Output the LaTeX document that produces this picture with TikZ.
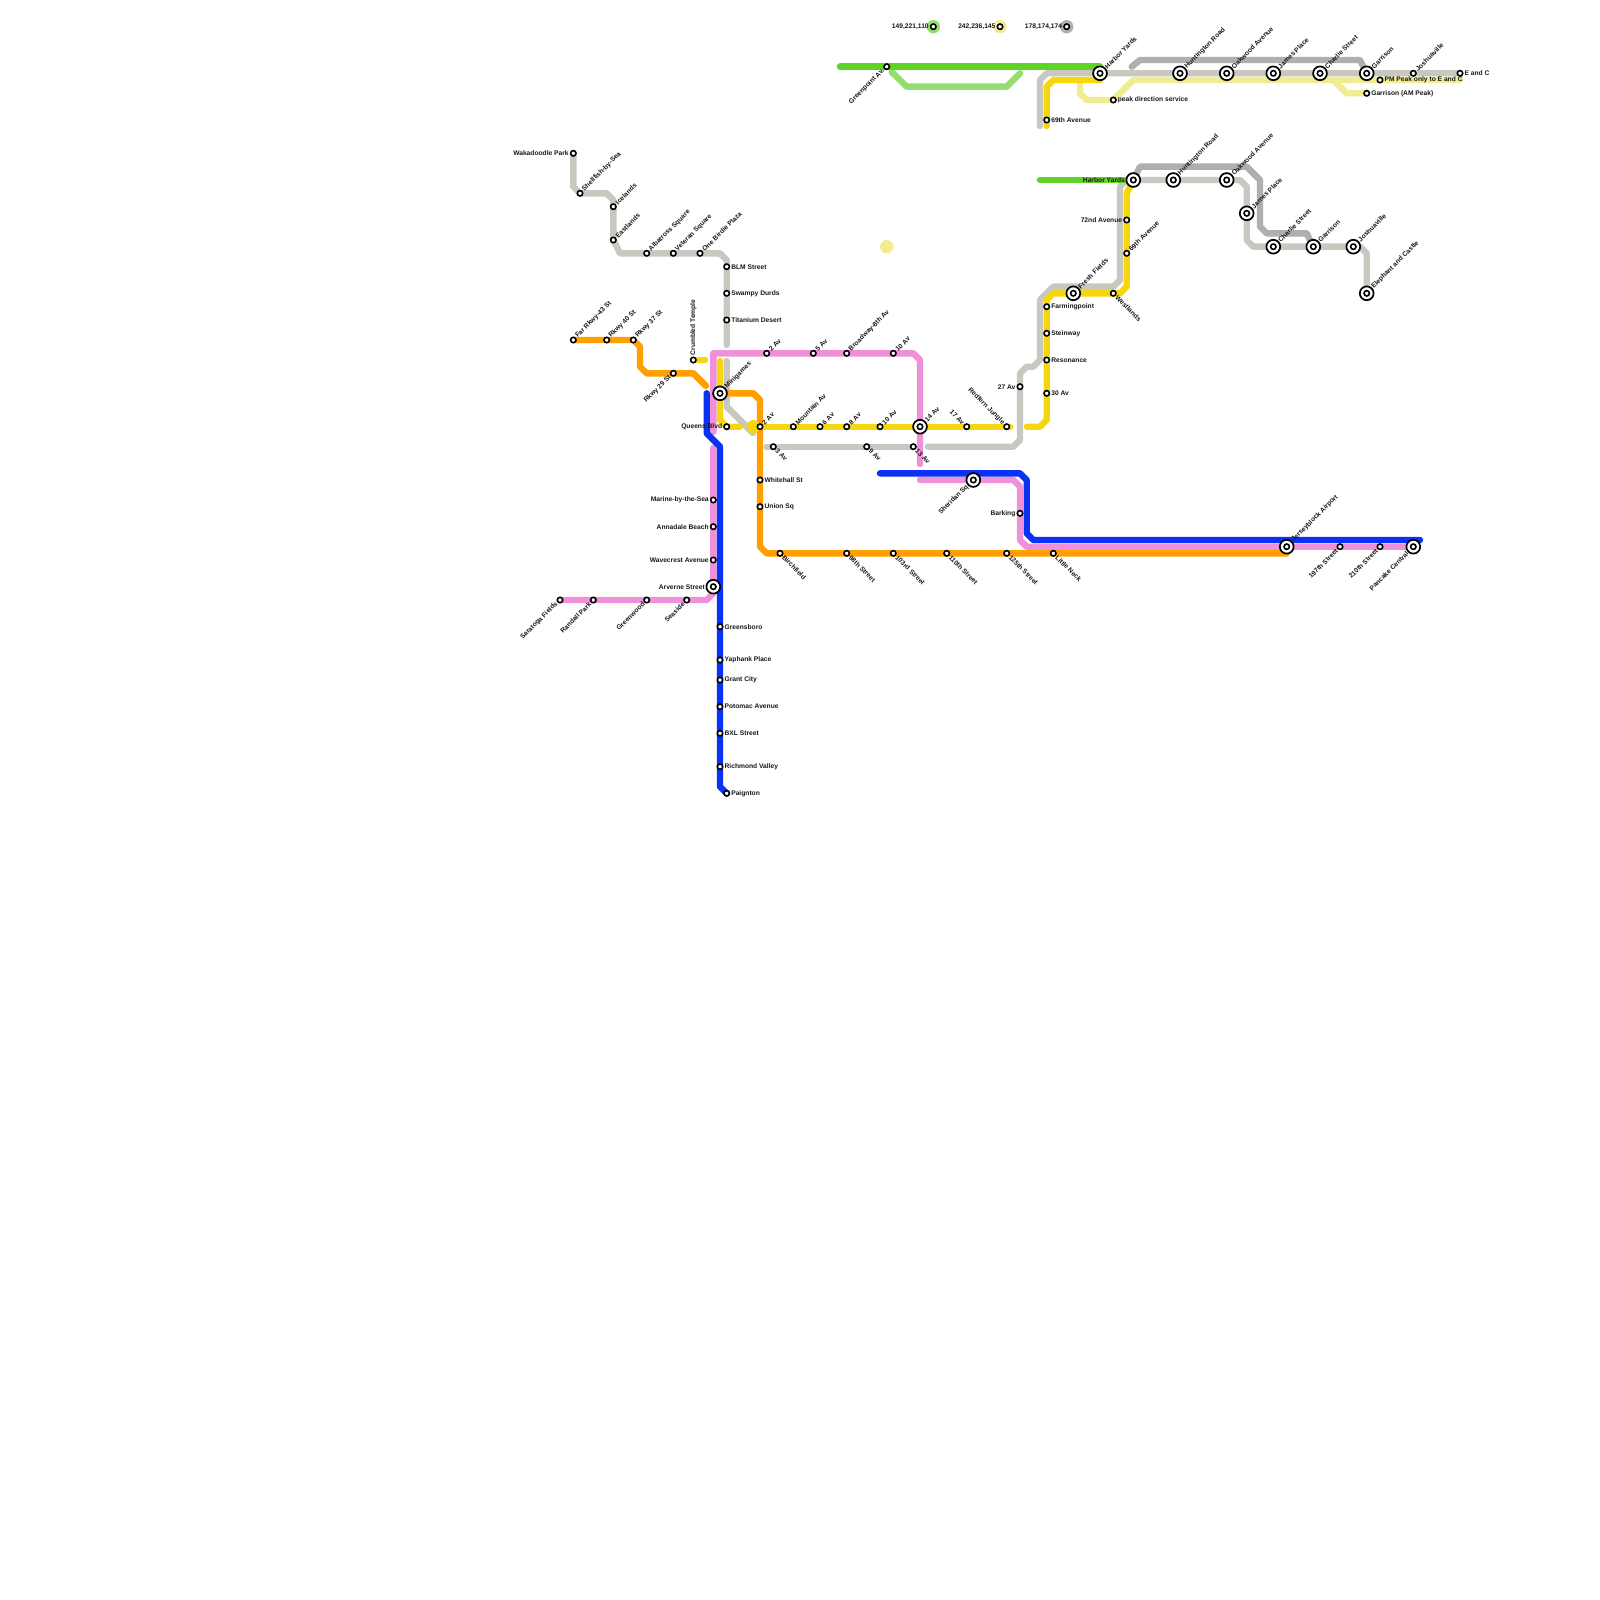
\documentclass[tikz,border=0pt]{standalone}
\usepackage{fontspec}
\setmainfont{Liberation Sans}
\usetikzlibrary{backgrounds}
\definecolor{cgreen}{RGB}{96,212,38}
\definecolor{clgreen}{RGB}{149,221,110}
\definecolor{cpale}{RGB}{242,236,145}
\definecolor{cdgray}{RGB}{178,174,174}
\definecolor{cgray}{RGB}{200,199,192}
\definecolor{cyel}{RGB}{246,215,15}
\definecolor{corg}{RGB}{255,159,0}
\definecolor{cpink}{RGB}{240,144,216}
\definecolor{cblue}{RGB}{10,50,245}
\newcommand{\px}{0.2845pt}
\tikzset{
  route/.style={line width=6.4*\px,line cap=round,line join=round},
  dotsm/.style={circle,draw=black,fill=white,line width=1.6*\px,inner sep=0pt,outer sep=0pt,minimum size=5.4*\px},
  dotbg/.style={circle,draw=black,fill=white,line width=1.7*\px,inner sep=0pt,outer sep=0pt,minimum size=13.8*\px},
  halo/.style={circle,inner sep=0pt,minimum size=13.4*\px},
  lab/.style={inner sep=0pt,outer sep=0pt,font=\bfseries\fontsize{1.9}{2.3}\selectfont,text=black!90},
  lE/.style={xshift=#1,anchor=west},
  lW/.style={xshift=-#1,anchor=east},
  lN/.style={yshift=#1,rotate=90,anchor=west},
  lUR/.style={xshift=0.707*#1,yshift=0.707*#1,rotate=45,anchor=west},
  lDR/.style={xshift=0.707*#1,yshift=-0.707*#1,rotate=-45,anchor=west},
  lDL/.style={xshift=-0.707*#1,yshift=-0.707*#1,rotate=45,anchor=east},
  lUL/.style={xshift=-0.707*#1,yshift=0.707*#1,rotate=-45,anchor=east},
}
\newcommand{\stn}[5]{\node[dotsm] (#1) at (#2,#3) {};\node[lab,#4=4.6*\px] (#1-t) at (#1.center) {#5};}
\newcommand{\bstn}[5]{\node[dotbg] (#1) at (#2,#3) {};\node[dotsm] (#1-c) at (#1.center) {};\node[lab,#4=8.4*\px] (#1-t) at (#1.center) {#5};}
\begin{document}
\begin{tikzpicture}[x=0.01cm,y=-0.01cm]
\useasboundingbox (0,0) rectangle (1600,1600);
% upper grey route, left branch
\stn{wak}{573.3}{153.3}{lW}{Wakadoodle Park}
\stn{she}{580}{193.3}{lUR}{Shellfish-by-Sea}
\stn{ice}{613.3}{206.7}{lUR}{Icelands}
\stn{eas}{613.3}{240}{lUR}{Eastlands}
\stn{alb}{646.7}{253.3}{lUR}{Albatross Square}
\stn{vet}{673.3}{253.3}{lUR}{Veteran Square}
\stn{one}{700}{253.3}{lUR}{One Birdie Plaza}
\stn{blm}{726.7}{266.7}{lE}{BLM Street}
\stn{swa}{726.7}{293.3}{lE}{Swampy Durds}
\stn{tit}{726.7}{320}{lE}{Titanium Desert}
% orange
\stn{far}{573.3}{340}{lUR}{Far Rkwy-43 St}
\stn{r40}{606.7}{340}{lUR}{Rkwy 40 St}
\stn{r37}{633.3}{340}{lUR}{Rkwy 37 St}
\stn{r29}{673.3}{373.3}{lDL}{Rkwy 29 St}
\stn{cru}{693.3}{360}{lN}{Crumbled Temple}
\bstn{min}{720}{393.3}{lUR}{Minigames}
\stn{que}{726.7}{426.7}{lW}{Queens Blvd}
\stn{a2y}{760}{426.7}{lUR}{2 Av}
\stn{mou}{793.3}{426.7}{lUR}{Mountain Av}
\stn{a6}{820}{426.7}{lUR}{6 Av}
\stn{a8}{846.7}{426.7}{lUR}{8 Av}
\stn{a10y}{880}{426.7}{lUR}{10 Av}
\bstn{a14}{920}{426.7}{lUR}{14 Av}
\stn{a17}{966.7}{426.7}{lUL}{17 Av}
\stn{red}{1006.7}{426.7}{lUL}{Redfern Jungle}
\stn{a3}{773.3}{446.7}{lDR}{3 Av}
\stn{a9}{866.7}{446.7}{lDR}{9 Av}
\stn{a13}{913.3}{446.7}{lDR}{13 Av}
\stn{a2p}{766.7}{353.3}{lUR}{2 Av}
\stn{a5}{813.3}{353.3}{lUR}{5 Av}
\stn{bro}{846.7}{353.3}{lUR}{Broadway-8th Av}
\stn{a10p}{893.3}{353.3}{lUR}{10 Av}
\stn{a27}{1020}{386.7}{lW}{27 Av}
\bstn{she2}{973.3}{480}{lDL}{Sheridan Sq}
\stn{bar}{1020}{513.3}{lW}{Barking}
\stn{lit}{1053.3}{553.3}{lDR}{Little Neck}
\stn{whi}{760}{480}{lE}{Whitehall St}
\stn{uni}{760}{506.7}{lE}{Union Sq}
\stn{bir}{780}{553.3}{lDR}{Birchfield}
\stn{s98}{846.7}{553.3}{lDR}{98th Street}
\stn{s103}{893.3}{553.3}{lDR}{103rd Street}
\stn{s110}{946.7}{553.3}{lDR}{110th Street}
\stn{s125}{1006.7}{553.3}{lDR}{125th Street}
\bstn{jer}{1286.7}{546.7}{lUR}{Jerseyblock Airport}
\stn{s197}{1340}{546.7}{lDL}{197th Street}
\stn{s210}{1380}{546.7}{lDL}{210th Street}
\bstn{pan}{1413.3}{546.7}{lDL}{Pancake Central}
% left pink branch
\stn{sar}{560}{600}{lDL}{Saratoga Fields}
\stn{ran}{593.3}{600}{lDL}{Randall Park}
\stn{gre}{646.7}{600}{lDL}{Greenwood}
\stn{sea}{686.7}{600}{lDL}{Seaside}
\bstn{arv}{713.3}{586.7}{lW}{Arverne Street}
\stn{wav}{713.3}{560}{lW}{Wavecrest Avenue}
\stn{ann}{713.3}{526.7}{lW}{Annadale Beach}
\stn{mar}{713.3}{500}{lW}{Marine-by-the-Sea}
% blue
\stn{grb}{720}{626.7}{lE}{Greensboro}
\stn{yap}{720}{660}{lE}{Yaphank Place}
\stn{gra}{720}{680}{lE}{Grant City}
\stn{pot}{720}{706.7}{lE}{Potomac Avenue}
\stn{bxl}{720}{733.3}{lE}{BXL Street}
\stn{ric}{720}{766.7}{lE}{Richmond Valley}
\stn{pai}{726.7}{793.3}{lE}{Paignton}
% right middle
\bstn{hy2}{1133.3}{180}{lW}{Harbor Yards}
\bstn{hu2}{1173.3}{180}{lUR}{Huntington Road}
\bstn{oa2}{1226.7}{180}{lUR}{Oakwood Avenue}
\bstn{ja2}{1246.7}{213.3}{lUR}{James Place}
\bstn{ch2}{1273.3}{246.7}{lUR}{Charlie Street}
\bstn{ga2}{1313.3}{246.7}{lUR}{Garrison}
\bstn{jo2}{1353.3}{246.7}{lUR}{Joshuaville}
\bstn{ele}{1366.7}{293.3}{lUR}{Elephant and Castle}
\stn{a72}{1126.7}{220}{lW}{72nd Avenue}
\stn{a69b}{1126.7}{253.3}{lUR}{69th Avenue}
\stn{wes}{1113.3}{293.3}{lDR}{Westlands}
\bstn{fre}{1073.3}{293.3}{lUR}{Fresh Fields}
\stn{fpt}{1046.7}{306.7}{lE}{Farmingpoint}
\stn{ste}{1046.7}{333.3}{lE}{Steinway}
\stn{res}{1046.7}{360}{lE}{Resonance}
\stn{a30}{1046.7}{393.3}{lE}{30 Av}
% top right
\stn{grp}{886.7}{66.7}{lDL}{Greenpoint Av.}
\bstn{hy1}{1100}{73.3}{lUR}{Harbor Yards}
\bstn{hu1}{1180}{73.3}{lUR}{Huntington Road}
\bstn{oa1}{1226.7}{73.3}{lUR}{Oakwood Avenue}
\bstn{ja1}{1273.3}{73.3}{lUR}{James Place}
\bstn{ch1}{1320}{73.3}{lUR}{Charlie Street}
\bstn{ga1}{1366.7}{73.3}{lUR}{Garrison}
\stn{pmp}{1380}{80}{lE}{PM Peak only to E and C}
\stn{jo1}{1413.3}{73.3}{lUR}{Joshuaville}
\stn{eac}{1460}{73.3}{lE}{E and C}
\stn{gam}{1366.7}{93.3}{lE}{Garrison (AM Peak)}
\stn{pds}{1113.3}{100}{lE}{peak direction service}
\stn{a69t}{1046.7}{120}{lE}{69th Avenue}
% legend
\node[halo,fill=clgreen] (lg1) at (933.3,26.7) {};
\node[halo,fill=cpale] (lg2) at (1000,26.7) {};
\node[halo,fill=cdgray] (lg3) at (1066.7,26.7) {};
\stn{lga}{933.3}{26.7}{lW}{149,221,110}
\stn{lgb}{1000}{26.7}{lW}{242,236,145}
\stn{lgc}{1066.7}{26.7}{lW}{178,174,174}
\node[halo,fill=cpale] (pdot) at (886.7,246.7) {};
\begin{pgfonlayer}{background}
\fill[white] (0,0) rectangle (1600,1600);
% grey
\draw[route,cgray] (wak.center) -- (573.3,186.7) -- (she.center) -- (606.7,193.3) -- (613.3,200) -- (eas.center) -- (620,253.3) -- (720,253.3) -- (726.7,260) -- (726.7,345);
\draw[route,cgray] (726.7,361) -- (726.7,406.7) -- (753,433);
\draw[route,cgray] (766.7,446.7) -- (a13.center);
\draw[route,cgray] (928,446.7) -- (1013.3,446.7) -- (1020,440) -- (1020,373.3) -- (1026.7,366.7) -- (1033.3,366.7) -- (1040,360) -- (1040,300) -- (1053.3,286.7) -- (1113.3,286.7) -- (1120,280) -- (1120,186.7) -- (1126.7,180) -- (1240,180) -- (1246.7,186.7) -- (1246.7,240) -- (1253.3,246.7) -- (1360,246.7) -- (1366.7,253.3) -- (ele.center);
\draw[route,cgray] (1040,126) -- (1040,80) -- (1046.7,73.3) -- (eac.center);
% dark grey
\draw[route,cdgray] (hy2.center) -- (1140,166.7) -- (1246.7,166.7) -- (1260,180) -- (1260,226.7) -- (1266.7,233.3) -- (1306.7,233.3) -- (ga2.center);
\draw[route,cdgray] (1131.7,66.7) -- (1140,60) -- (1360,60) -- (ga1.center);
% pale yellow
\draw[route,cpale] (1080,85) -- (1080,93.3) -- (1086.7,100) -- (pds.center) -- (1133.3,80) -- (1460,80);
\draw[route,cpale] (1333.3,80) -- (1346.7,93.3) -- (gam.center);
% light green
\draw[route,clgreen] (891.7,72) -- (906.7,86.7) -- (1006.7,86.7) -- (1020,73.3);
% pink
\draw[route,cpink] (713.3,432) -- (713.3,353.3) -- (913.3,353.3) -- (920,360) -- (920,464);
\draw[route,cpink] (920,480) -- (1013.3,480) -- (1020,486.7) -- (1020,540) -- (1026.7,546.7) -- (pan.center);
\draw[route,cpink] (sar.center) -- (706.7,600) -- (713.3,593.3) -- (713.3,448);
% orange
\draw[route,corg] (far.center) -- (633.3,340) -- (640,346.7) -- (640,366.7) -- (646.7,373.3) -- (693.3,373.3) -- (706,386);
\draw[route,corg] (min.center) -- (753.3,393.3) -- (760,400) -- (760,546.7) -- (766.7,553.3) -- (1286.7,553.3);
% yellow
\draw[route,cyel] (cru.center) -- (705,360);
\draw[route,cyel] (720,361) -- (720,420) -- (726.7,426.7) -- (740,426.7);
\fill[cyel] (753.3,426.7) circle[radius=6.7*\px];
\draw[route,cyel] (753.3,426.7) -- (1010,426.7);
\draw[route,cyel] (1027,426.7) -- (1040,426.7) -- (1046.7,420) -- (1046.7,300) -- (1053.3,293.3) -- (1120,293.3) -- (1126.7,286.7) -- (1126.7,193.3) -- (hy2.center);
\draw[route,cyel] (1046.7,126) -- (1046.7,86.7) -- (1053.3,80) -- (1100,80);
% blue
\draw[route,cblue] (706.7,393.3) -- (706.7,433.3) -- (720,446.7) -- (720,786.7) -- (pai.center);
\draw[route,cblue] (880,473.3) -- (1020,473.3) -- (1026.7,480) -- (1026.7,533.3) -- (1033.3,540) -- (1420,540);
% green
\draw[route,cgreen] (840,66.7) -- (1100,66.7);
\draw[route,cgreen] (1040,180) -- (hy2.center);
\end{pgfonlayer}
\end{tikzpicture}
\end{document}
